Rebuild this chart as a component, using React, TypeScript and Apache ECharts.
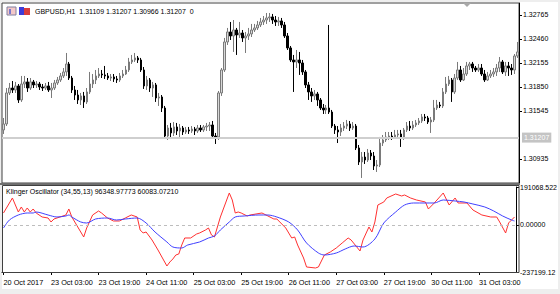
import React, { useEffect, useRef } from "react";
import * as echarts from "echarts";

// x-axis tick labels, one every 16 hourly bars
const tickLabels = [
  "20 Oct 2017", "23 Oct 03:00", "23 Oct 19:00", "24 Oct 11:00", "25 Oct 03:00",
  "25 Oct 19:00", "26 Oct 11:00", "27 Oct 03:00", "27 Oct 19:00", "30 Oct 11:00", "31 Oct 03:00",
];
const barsPerTick = 16;

const opens = [
  1.31304, 1.31380, 1.31774, 1.31837, 1.31812, 1.31863, 1.31685, 1.31888, 1.31914, 1.31837,
  1.31914, 1.31876, 1.31888, 1.31850, 1.31837, 1.31863, 1.31812, 1.31837, 1.31901, 1.31939,
  1.31990, 1.32041, 1.32142, 1.31964, 1.31812, 1.31748, 1.31685, 1.31736, 1.31660, 1.31787,
  1.31888, 1.31939, 1.31990, 1.32015, 1.32003, 1.31990, 1.31964, 1.31977, 1.31952, 1.31939,
  1.31990, 1.32015, 1.32066, 1.32168, 1.32193, 1.32219, 1.32193, 1.32066, 1.31863, 1.31939,
  1.31837, 1.31876, 1.31710, 1.31723, 1.31583, 1.31227, 1.31329, 1.31266, 1.31342, 1.31291,
  1.31329, 1.31278, 1.31304, 1.31291, 1.31316, 1.31291, 1.31329, 1.31304, 1.31342, 1.31354,
  1.31367, 1.31227, 1.31215, 1.31774, 1.32066, 1.32422, 1.32549, 1.32498, 1.32574, 1.32511,
  1.32536, 1.32473, 1.32498, 1.32524, 1.32574, 1.32600, 1.32638, 1.32676, 1.32701, 1.32727,
  1.32740, 1.32701, 1.32676, 1.32689, 1.32638, 1.32498, 1.32346, 1.32193, 1.32168, 1.32193,
  1.32155, 1.32041, 1.31876, 1.31787, 1.31736, 1.31761, 1.31685, 1.31583, 1.31558, 1.31583,
  1.31532, 1.31354, 1.31304, 1.31278, 1.31329, 1.31354, 1.31380, 1.31329, 1.31354, 1.31075,
  1.30897, 1.30960, 1.30922, 1.31011, 1.30973, 1.30846, 1.30859, 1.31138, 1.31177, 1.31215,
  1.31227, 1.31215, 1.31240, 1.31253, 1.31202, 1.31304, 1.31354, 1.31329, 1.31367, 1.31393,
  1.31418, 1.31469, 1.31456, 1.31405, 1.31431, 1.31583, 1.31621, 1.31609, 1.31787, 1.31888,
  1.31939, 1.31787, 1.31964, 1.32066, 1.31939, 1.32015, 1.32117, 1.32142, 1.32091, 1.32066,
  1.32091, 1.32015, 1.31939, 1.31990, 1.32015, 1.32041, 1.32091, 1.32168, 1.32041, 1.32117,
  1.32091, 1.32066, 1.32244,
];
const closes = [
  1.31380, 1.31774, 1.31837, 1.31812, 1.31863, 1.31685, 1.31888, 1.31914, 1.31837, 1.31914,
  1.31876, 1.31888, 1.31850, 1.31837, 1.31863, 1.31812, 1.31837, 1.31901, 1.31939, 1.31990,
  1.32041, 1.32142, 1.31964, 1.31812, 1.31748, 1.31685, 1.31736, 1.31660, 1.31787, 1.31888,
  1.31939, 1.31990, 1.32015, 1.32003, 1.31990, 1.31964, 1.31977, 1.31952, 1.31939, 1.31990,
  1.32015, 1.32066, 1.32168, 1.32193, 1.32219, 1.32193, 1.32066, 1.31863, 1.31939, 1.31837,
  1.31876, 1.31710, 1.31723, 1.31583, 1.31227, 1.31329, 1.31266, 1.31342, 1.31291, 1.31329,
  1.31278, 1.31304, 1.31291, 1.31316, 1.31291, 1.31329, 1.31304, 1.31342, 1.31354, 1.31367,
  1.31227, 1.31202, 1.31774, 1.32066, 1.32422, 1.32549, 1.32498, 1.32574, 1.32511, 1.32536,
  1.32473, 1.32498, 1.32524, 1.32574, 1.32600, 1.32638, 1.32676, 1.32701, 1.32727, 1.32740,
  1.32701, 1.32676, 1.32689, 1.32638, 1.32498, 1.32346, 1.32193, 1.32168, 1.32193, 1.32155,
  1.32041, 1.31876, 1.31787, 1.31736, 1.31761, 1.31685, 1.31583, 1.31558, 1.31583, 1.31532,
  1.31354, 1.31304, 1.31278, 1.31329, 1.31354, 1.31380, 1.31329, 1.31354, 1.31075, 1.30897,
  1.30960, 1.30922, 1.31011, 1.30973, 1.30846, 1.30859, 1.31138, 1.31177, 1.31215, 1.31227,
  1.31215, 1.31240, 1.31253, 1.31202, 1.31304, 1.31354, 1.31329, 1.31367, 1.31393, 1.31418,
  1.31469, 1.31456, 1.31405, 1.31431, 1.31583, 1.31621, 1.31609, 1.31787, 1.31888, 1.31939,
  1.31787, 1.31964, 1.32066, 1.31939, 1.32015, 1.32117, 1.32142, 1.32091, 1.32066, 1.32091,
  1.32015, 1.31939, 1.31990, 1.32015, 1.32041, 1.32091, 1.32168, 1.32041, 1.32117, 1.32091,
  1.32066, 1.32244, 1.32295,
];
const highs = [
  1.31456, 1.31837, 1.31901, 1.31926, 1.31914, 1.31888, 1.31990, 1.31990, 1.31964, 1.31964,
  1.31939, 1.31926, 1.31914, 1.31888, 1.31901, 1.31914, 1.31901, 1.31939, 1.31977, 1.32028,
  1.32091, 1.32282, 1.32168, 1.31990, 1.31863, 1.31812, 1.31774, 1.31787, 1.31837, 1.32041,
  1.32015, 1.32066, 1.32091, 1.32066, 1.32117, 1.32028, 1.32015, 1.32015, 1.31990, 1.32028,
  1.32066, 1.32117, 1.32219, 1.32257, 1.32282, 1.32244, 1.32219, 1.32104, 1.31990, 1.31964,
  1.31914, 1.31901, 1.31774, 1.31748, 1.31609, 1.31367, 1.31393, 1.31405, 1.31393, 1.31380,
  1.31354, 1.31342, 1.31342, 1.31354, 1.31342, 1.31367, 1.31367, 1.31367, 1.31393, 1.31405,
  1.31418, 1.31266, 1.31799, 1.32091, 1.32473, 1.32600, 1.32676, 1.32701, 1.32600, 1.32676,
  1.32574, 1.32549, 1.32600, 1.32651, 1.32651, 1.32689, 1.32727, 1.32752, 1.32790, 1.32790,
  1.32778, 1.32752, 1.32740, 1.32727, 1.32676, 1.32536, 1.32371, 1.32257, 1.32320, 1.32295,
  1.32193, 1.32066, 1.31914, 1.31837, 1.31812, 1.31787, 1.31710, 1.31634, 1.31621, 1.32638,
  1.31558, 1.31380, 1.31354, 1.31380, 1.31405, 1.31431, 1.31418, 1.31405, 1.31380, 1.31113,
  1.31024, 1.31024, 1.31062, 1.31049, 1.31024, 1.30922, 1.31215, 1.31240, 1.31278, 1.31278,
  1.31278, 1.31304, 1.31304, 1.31304, 1.31329, 1.31405, 1.31418, 1.31418, 1.31431, 1.31456,
  1.31507, 1.31507, 1.31482, 1.31469, 1.31685, 1.31685, 1.31660, 1.31837, 1.31977, 1.31990,
  1.31964, 1.32015, 1.32168, 1.32117, 1.32091, 1.32168, 1.32168, 1.32168, 1.32117, 1.32142,
  1.32142, 1.32066, 1.32041, 1.32066, 1.32091, 1.32142, 1.32231, 1.32193, 1.32168, 1.32168,
  1.32142, 1.32269, 1.32422,
];
const lows = [
  1.31253, 1.31354, 1.31748, 1.31774, 1.31774, 1.31647, 1.31660, 1.31837, 1.31787, 1.31812,
  1.31837, 1.31837, 1.31812, 1.31799, 1.31812, 1.31787, 1.31710, 1.31812, 1.31876, 1.31914,
  1.31964, 1.31990, 1.31939, 1.31774, 1.31685, 1.31634, 1.31621, 1.31583, 1.31634, 1.31761,
  1.31837, 1.31888, 1.31964, 1.31964, 1.31952, 1.31939, 1.31926, 1.31914, 1.31901, 1.31914,
  1.31964, 1.32003, 1.32041, 1.32142, 1.32168, 1.32155, 1.32041, 1.31825, 1.31812, 1.31787,
  1.31723, 1.31660, 1.31609, 1.31532, 1.31202, 1.31177, 1.31202, 1.31227, 1.31240, 1.31189,
  1.31240, 1.31253, 1.31253, 1.31266, 1.31240, 1.31266, 1.31278, 1.31278, 1.31291, 1.31291,
  1.31189, 1.31126, 1.31177, 1.31736, 1.32041, 1.32384, 1.32447, 1.32295, 1.32257, 1.32473,
  1.32422, 1.32282, 1.32447, 1.32485, 1.32549, 1.32574, 1.32612, 1.32638, 1.32651, 1.32676,
  1.32651, 1.32625, 1.32625, 1.32600, 1.32473, 1.32320, 1.32168, 1.31787, 1.32091, 1.32003,
  1.32003, 1.31837, 1.31685, 1.31660, 1.31685, 1.31609, 1.31558, 1.31507, 1.31507, 1.31507,
  1.31329, 1.31253, 1.31138, 1.31227, 1.31291, 1.31316, 1.31291, 1.31304, 1.31049, 1.30859,
  1.30694, 1.30872, 1.30897, 1.30922, 1.30795, 1.30770, 1.30833, 1.31100, 1.31151, 1.31177,
  1.31177, 1.31189, 1.31202, 1.31088, 1.31177, 1.31278, 1.31291, 1.31304, 1.31342, 1.31367,
  1.31393, 1.31418, 1.31380, 1.31266, 1.31405, 1.31558, 1.31583, 1.31583, 1.31761, 1.31863,
  1.31660, 1.31761, 1.31939, 1.31914, 1.31926, 1.31990, 1.32066, 1.32041, 1.32041, 1.32041,
  1.31990, 1.31914, 1.31926, 1.31964, 1.31977, 1.31990, 1.32041, 1.32015, 1.31990, 1.31990,
  1.32003, 1.32015, 1.32219,
];

// price axis
const priceTicks = [1.30935, 1.31545, 1.3185, 1.32155, 1.3246, 1.32765];
const priceMin = 1.3063;
const priceMax = 1.32917;
const bidPrice = 1.31207;

// Klinger oscillator pane: [bar index, value]
const koMax = 191068.522;
const koMin = -237199.12;
const koTickLabels = ["-237199.12", "0.00000", "191068.522"];
const klinger = [
  [0, 60080], [3, 135650], [5, 65118], [6, 90308], [7, 65118], [8, 85270], [9, 65118], [10, 80232],
  [11, 60080], [13, 39928], [15, 34890], [16, 14738], [17, 29852], [19, 39928], [21, 50004], [22, 80232],
  [23, 39928], [25, -10452], [27, -60832], [28, -15490], [30, 50004], [32, 70156], [33, 60080], [35, 34890],
  [37, 19776], [39, 19776], [41, 34890], [43, 50004], [45, 39928], [46, -25566], [47, -40680], [48, -35642],
  [50, -75946], [52, -126326], [55, -206934], [56, -186782], [57, -171668], [58, -151516], [59, -146478],
  [60, -101136], [61, -65870], [63, -65870], [65, -45718], [66, -40680], [68, -25566], [69, -15490],
  [70, -50756], [71, -60832], [73, 39928], [76, 160840], [77, 125574], [78, 60080], [79, 65118], [80, 60080],
  [82, 44966], [83, 50004], [87, 60080], [89, 44966], [91, 29852], [92, 29852], [95, -15490], [97, -65870],
  [98, -60832], [99, -101136], [101, -166630], [102, -211972], [105, -217010], [106, -211972], [108, -151516],
  [110, -136402], [112, -116250], [114, -91060], [116, -65870], [117, -75946], [120, -131364], [121, -75946],
  [123, -10452], [124, -35642], [125, 14738], [126, 100384], [128, 115498], [129, 135650], [132, 155802],
  [134, 145726], [135, 150764], [137, 135650], [139, 125574], [142, 115498], [143, 80232], [145, 110460],
  [148, 160840], [150, 100384], [152, 135650], [153, 110460], [156, 110460], [158, 75194], [161, 50004],
  [164, 39928], [166, 39928], [167, 14738], [169, -40680], [170, 9700], [172, 39928],
];
const signal = [
  [0, -15490], [2, 24814], [5, 50004], [8, 60080], [10, 60080], [11, 65118], [15, 50004], [18, 39928],
  [21, 44966], [22, 50004], [23, 39928], [26, 14738], [28, 9700], [31, 29852], [35, 34890], [38, 24814],
  [41, 29852], [45, 34890], [48, 9700], [51, -35642], [55, -86022], [57, -111212], [60, -116250],
  [62, -101136], [66, -86022], [69, -65870], [71, -55794], [73, -25566], [76, 14738], [78, 39928],
  [81, 44966], [86, 50004], [89, 50004], [92, 39928], [96, 14738], [99, -25566], [102, -91060],
  [106, -141440], [108, -151516], [112, -141440], [115, -121288], [118, -106174], [121, -111212],
  [125, -70908], [128, 9700], [132, 65118], [135, 100384], [138, 110460], [142, 110460], [145, 110460],
  [148, 125574], [152, 120536], [155, 115498], [158, 105422], [162, 90308], [165, 70156], [168, 44966],
  [171, 24814], [172, 19776],
];

const headerText = "GBPUSD,H1  1.31109 1.31207 1.30966 1.31207  0";
const indicatorText = "Klinger Oscillator (34,55,13) 96348.97773 60083.07210";

const FONT = "Liberation Sans";

export default function App() {
  const ref = useRef<HTMLDivElement>(null);
  useEffect(() => {
    if (!ref.current) return;
    const chart = echarts.init(ref.current, undefined, { renderer: "svg" });
    const categories = opens.map((_, i) => String(i));
    const candles = opens.map((o, i) => [o, closes[i], lows[i], highs[i]]);
    const showTick = (idx: number) => idx % barsPerTick === 0 && idx / barsPerTick < tickLabels.length;

    chart.setOption({
      animation: false,
      backgroundColor: "transparent",
      textStyle: { fontFamily: FONT },
      grid: [
        { left: 2, width: 517, top: 3, height: 180, show: true, borderColor: "#404040", borderWidth: 1, backgroundColor: "#fff" },
        { left: 2, width: 517, top: 187, height: 85, show: false },
      ],
      xAxis: [
        {
          type: "category", gridIndex: 0, data: categories, boundaryGap: true,
          axisLine: { show: false }, axisTick: { show: false }, axisLabel: { show: false }, splitLine: { show: false },
        },
        {
          type: "category", gridIndex: 1, data: categories, boundaryGap: true, position: "bottom",
          axisLine: { show: true, onZero: false, lineStyle: { color: "#000", width: 1 } },
          axisTick: { show: true, alignWithLabel: true, interval: (i: number) => showTick(i), length: 3, lineStyle: { color: "#000" } },
          axisLabel: {
            show: true, interval: (i: number) => showTick(i), align: "left", margin: 7,
            fontSize: 7.3, color: "#000", fontFamily: FONT,
            formatter: (_v: string, i: number) => tickLabels[i / barsPerTick] ?? "",
          },
          splitLine: { show: false },
        },
      ],
      yAxis: [
        {
          type: "value", gridIndex: 0, position: "right", min: priceMin, max: priceMax,
          axisLine: { show: true, lineStyle: { color: "#000" } },
          axisTick: { show: true, length: 3, customValues: priceTicks, lineStyle: { color: "#000" } },
          axisLabel: { customValues: priceTicks, formatter: (v: number) => v.toFixed(5), fontSize: 7, color: "#000", margin: 4, fontFamily: FONT },
          splitLine: { show: false },
        },
        {
          type: "value", gridIndex: 1, position: "right", min: koMin, max: koMax,
          axisLine: { show: true, lineStyle: { color: "#000" } },
          axisTick: { show: true, length: 3, customValues: [koMin, 0, koMax], lineStyle: { color: "#000" } },
          axisLabel: {
            customValues: [koMin, 0, koMax], fontSize: 7, color: "#000", margin: 4, fontFamily: FONT,
            formatter: (v: number) => (v === koMin ? koTickLabels[0] : v === 0 ? koTickLabels[1] : koTickLabels[2]),
          },
          splitLine: { show: false },
        },
      ],
      series: [
        {
          type: "candlestick", xAxisIndex: 0, yAxisIndex: 0, data: candles, barWidth: 2, z: 3,
          itemStyle: { color: "#d8d8d8", color0: "#000", borderColor: "#7a7a7a", borderColor0: "#000", borderWidth: 1 },
        },
        {
          // carrier for the bid-price line
          type: "line", xAxisIndex: 0, yAxisIndex: 0, data: [[0, bidPrice]], symbol: "none", showSymbol: false,
          lineStyle: { opacity: 0 }, z: 2,
          markLine: {
            silent: true, symbol: "none", animation: false, precision: 5,
            data: [{ yAxis: bidPrice }],
            lineStyle: { color: "#cfcfcf", width: 2, type: "solid" },
            label: {
              show: true, position: "end", formatter: bidPrice.toFixed(5), distance: 3,
              backgroundColor: "#c4c4c4", color: "#fff", fontSize: 7, padding: [2, 2, 1, 2], fontFamily: FONT,
            },
          },
        },
        {
          type: "line", xAxisIndex: 1, yAxisIndex: 1, data: klinger, showSymbol: false, symbol: "none",
          lineStyle: { color: "#ff3030", width: 1 },
          markLine: {
            silent: true, symbol: "none", animation: false, data: [{ yAxis: 0 }],
            lineStyle: { color: "#bdbdbd", width: 1, type: [3, 3] }, label: { show: false },
          },
        },
        {
          type: "line", xAxisIndex: 1, yAxisIndex: 1, data: signal, showSymbol: false, symbol: "none", smooth: 0.3,
          lineStyle: { color: "#4040ff", width: 1 },
        },
      ],
      graphic: [
        // pane splitter and indicator frame
        { type: "rect", shape: { x: 0, y: 183, width: 520, height: 2 }, style: { fill: "#6e6e6e" }, z: 10 },
        { type: "rect", shape: { x: 2.5, y: 185.5, width: 516.5, height: 87 }, style: { fill: "none", stroke: "#404040", lineWidth: 1 }, z: 10 },
        // header icons
        { type: "rect", shape: { x: 7, y: 7, width: 9, height: 8 }, style: { fill: "#f4c8c8", stroke: "#8080a0", lineWidth: 1 }, z: 10 },
        { type: "rect", shape: { x: 9, y: 9, width: 2, height: 5 }, style: { fill: "#7a7ad0" }, z: 10 },
        { type: "rect", shape: { x: 19, y: 7, width: 5, height: 8 }, style: { fill: "#3c3cd8" }, z: 10 },
        { type: "rect", shape: { x: 24, y: 8, width: 6, height: 7 }, style: { fill: "#d83c3c" }, z: 10 },
        { type: "text", x: 35, y: 11, style: { text: headerText, fontSize: 7, fill: "#000", fontFamily: FONT, verticalAlign: "middle" }, z: 10 },
        { type: "text", x: 6, y: 191, style: { text: indicatorText, fontSize: 7, fill: "#000", fontFamily: FONT, verticalAlign: "middle" }, z: 10 },
        // chart shift marker
        { type: "polygon", shape: { points: [[463, 3], [471, 3], [467, 7]] }, style: { fill: "#a8a8a8" }, z: 10 },
      ],
    });
    return () => chart.dispose();
  }, []);

  return (
    <div style={{ position: "absolute", left: 0, top: 0, width: 560, height: 294, background: "#eeeeee" }}>
      <div style={{ position: "absolute", left: 2, top: 2, width: 556, height: 287, background: "#fff" }} />
      <div ref={ref} style={{ position: "absolute", left: 0, top: 0, width: 560, height: 294 }} />
    </div>
  );
}
